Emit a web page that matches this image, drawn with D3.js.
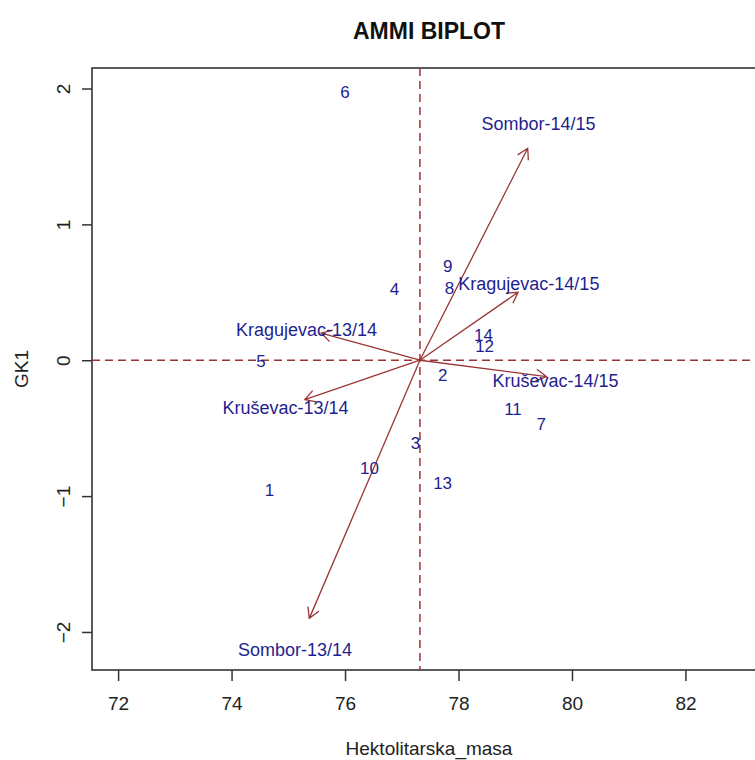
<!DOCTYPE html>
<html>
<head>
<meta charset="utf-8">
<script src="https://cdn.jsdelivr.net/npm/d3@7"></script>
<style>
  body { margin: 0; background: #fff; }
  svg { display: block; font-family: "Liberation Sans", Arial, sans-serif; }
</style>
</head>
<body>
<svg id="chart"></svg>
<script>
// genotipovi (brojevi) - koordinate ocitane sa slike
const genotypes = ["1","2","3","4","5","6","7","8","9","10","11","12","13","14"]
const genoX = [74.67, 77.72, 77.24, 76.87, 74.52, 76.0, 79.46, 77.84, 77.81, 76.43, 78.96, 78.46, 77.72, 78.44]
const genoY = [-0.96, -0.11, -0.61, 0.52, -0.01, 1.97, -0.47, 0.53, 0.69, -0.80, -0.36, 0.10, -0.91, 0.18]

// okruzenja - vrh strelice i polozaj natpisa
const environments = ["Sombor-14/15","Kragujevac-14/15","Kruševac-14/15","Kragujevac-13/14","Kruševac-13/14","Sombor-13/14"]
const envX = [79.22, 79.05, 79.55, 75.58, 75.29, 75.37]
const envY = [1.56, 0.50, -0.12, 0.20, -0.29, -1.90]
const envLabelX = [79.41, 79.24, 79.71, 75.32, 74.95, 75.12]
const envLabelY = [1.74, 0.56, -0.15, 0.22, -0.35, -2.13]

const meanX = 77.32 // prosek (isprekidana vertikala)
const xTicks = [72, 74, 76, 78, 80, 82]
const yTicks = [-2, -1, 0, 1, 2]

const width = 755, height = 760
const plot = { left: 92, top: 68, right: 766, bottom: 670 }

const colors = {
    text: "#1f1f8f",
    arrow: "#9a3535",
    axis: "#333"
}

const svg = d3.select("#chart").attr("width", width).attr("height", height)
svg.append("rect").attr("width", width).attr("height", height).attr("fill", "#fff")

const x = d3.scaleLinear().domain([71.54, 83.42]).range([plot.left, plot.right])
const y = d3.scaleLinear().domain([-2.28, 2.151]).range([plot.bottom, plot.top])

// ose
const xAxis = svg.append("g")
    .attr("transform", `translate(0,${plot.bottom})`)
    .call(d3.axisBottom(x).tickValues(xTicks).tickSize(11).tickPadding(16).tickFormat(d3.format("d")))
xAxis.select(".domain").remove()

const yAxis = svg.append("g")
    .attr("transform", `translate(${plot.left},0)`)
    .call(d3.axisLeft(y).tickValues(yTicks).tickSize(10).tickFormat(d3.format("d")))
yAxis.select(".domain").remove()

svg.selectAll(".tick text").attr("font-size", "19px").attr("fill", "#222")
svg.selectAll(".tick line").attr("stroke", colors.axis).attr("stroke-width", 1.5)
// oznake na y osi su rotirane kao u R-u
yAxis.selectAll(".tick text")
    .attr("x", 0).attr("y", 0).attr("dy", null)
    .attr("text-anchor", "middle")
    .attr("dominant-baseline", "central")
    .attr("transform", "translate(-29,0) rotate(-90)")

// okvir
svg.append("rect")
    .attr("x", plot.left).attr("y", plot.top)
    .attr("width", plot.right - plot.left).attr("height", plot.bottom - plot.top)
    .attr("fill", "none").attr("stroke", colors.axis).attr("stroke-width", 1.6)

// isprekidane linije
svg.append("line")
    .attr("x1", x(meanX)).attr("x2", x(meanX))
    .attr("y1", plot.top).attr("y2", plot.bottom)
    .attr("stroke", colors.arrow).attr("stroke-width", 1.5).attr("stroke-dasharray", "8,5")
svg.append("line")
    .attr("x1", plot.left).attr("x2", plot.right)
    .attr("y1", y(0)).attr("y2", y(0))
    .attr("stroke", colors.arrow).attr("stroke-width", 1.5).attr("stroke-dasharray", "8,5")

// strelice
const headLen = 12, headAng = Math.PI / 6
const arrows = svg.append("g").attr("class", "arrows")
environments.forEach((e, i) => {
    const x0 = x(meanX), y0 = y(0), x1 = x(envX[i]), y1 = y(envY[i])
    const a = Math.atan2(y1 - y0, x1 - x0)
    const p = d3.path()
    p.moveTo(x0, y0); p.lineTo(x1, y1)
    p.moveTo(x1 - headLen * Math.cos(a - headAng), y1 - headLen * Math.sin(a - headAng))
    p.lineTo(x1, y1)
    p.lineTo(x1 - headLen * Math.cos(a + headAng), y1 - headLen * Math.sin(a + headAng))
    arrows.append("path").attr("d", p.toString())
        .attr("fill", "none").attr("stroke", colors.arrow).attr("stroke-width", 1.3)
})

// natpisi okruzenja
svg.append("g").selectAll("text")
    .data(environments)
    .enter()
    .append("text")
    .attr("x", (d, i) => x(envLabelX[i]))
    .attr("y", (d, i) => y(envLabelY[i]))
    .attr("text-anchor", "middle")
    .attr("dominant-baseline", "central")
    .attr("font-size", "18px")
    .attr("fill", colors.text)
    .text(d => d)

// genotipovi
svg.append("g").selectAll("text")
    .data(genotypes)
    .enter()
    .append("text")
    .attr("x", (d, i) => x(genoX[i]))
    .attr("y", (d, i) => y(genoY[i]))
    .attr("text-anchor", "middle")
    .attr("dominant-baseline", "central")
    .attr("font-size", "17px")
    .attr("fill", colors.text)
    .text(d => d)

// naslovi
svg.append("text")
    .attr("x", (plot.left + plot.right) / 2).attr("y", 31)
    .attr("text-anchor", "middle").attr("dominant-baseline", "central")
    .attr("font-size", "23px").attr("font-weight", "bold").attr("fill", "#111")
    .text("AMMI BIPLOT")

svg.append("text")
    .attr("x", (plot.left + plot.right) / 2).attr("y", 748)
    .attr("text-anchor", "middle").attr("dominant-baseline", "central")
    .attr("font-size", "19px").attr("fill", "#222")
    .text("Hektolitarska_masa")

svg.append("text")
    .attr("transform", `translate(21,${(plot.top + plot.bottom) / 2}) rotate(-90)`)
    .attr("text-anchor", "middle").attr("dominant-baseline", "central")
    .attr("font-size", "19px").attr("fill", "#222")
    .text("GK1")
</script>
</body>
</html>
